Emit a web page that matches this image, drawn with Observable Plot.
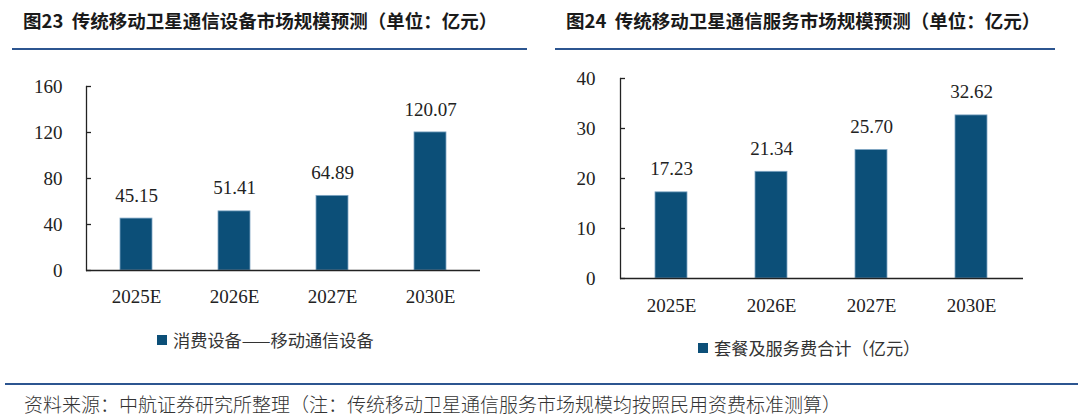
<!DOCTYPE html>
<html><head><meta charset="utf-8">
<script src="https://cdn.jsdelivr.net/npm/d3@7"></script>
<script src="https://cdn.jsdelivr.net/npm/@observablehq/plot@0.6"></script>
<style>
html,body{margin:0;padding:0;background:#fff;}
#root{position:relative;width:1080px;height:419px;overflow:hidden;background:#fff;font-family:"Noto Sans CJK SC","Noto Sans",sans-serif;}
.title{position:absolute;font-size:18.5px;font-weight:700;color:#1a1a1a;line-height:24px;white-space:pre;}
.hline{position:absolute;height:2px;background:#2c5590;}
.legend{position:absolute;font-size:17.2px;color:#333;line-height:22px;white-space:nowrap;display:flex;align-items:center;}
.legend .sw{display:inline-block;width:10px;height:10px;background:#0c4f78;margin-right:6px;}
.footer{position:absolute;font-size:19px;color:#333;font-weight:300;line-height:22px;white-space:nowrap;}
.chart{position:absolute;}
</style></head>
<body><div id="root">
<div class="title" id="t1" style="left:23px;top:8px;"></div>
<div class="hline" style="left:12px;top:48px;width:515px;"></div>
<div class="title" id="t2" style="left:566px;top:8px;"></div>
<div class="hline" style="left:555px;top:48px;width:500px;"></div>
<div class="chart" id="c1" style="left:0px;top:60px;"></div>
<div class="chart" id="c2" style="left:540px;top:60px;"></div>
<div class="legend" id="l1" style="left:157px;top:329px;"><span class="sw"></span><span id="l1t"></span></div>
<div class="legend" id="l2" style="left:698px;top:337px;"><span class="sw"></span><span id="l2t"></span></div>
<div class="hline" style="left:5px;top:383px;width:1073px;"></div>
<div class="footer" id="ft" style="left:24px;top:393px;"></div>
</div>
<script>
// ---- data ----
const years = ["2025E", "2026E", "2027E", "2030E"];
const equipValues = [45.15, 51.41, 64.89, 120.07];
const serviceValues = [17.23, 21.34, 25.70, 32.62];
const equipTicks = [0, 40, 80, 120, 160];
const serviceTicks = [0, 10, 20, 30, 40];
const title1 = "图23  传统移动卫星通信设备市场规模预测（单位：亿元）";
const title2 = "图24  传统移动卫星通信服务市场规模预测（单位：亿元）";
const legend1 = "消费设备——移动通信设备";
const legend2 = "套餐及服务费合计（亿元）";
const footer = "资料来源：中航证券研究所整理（注：传统移动卫星通信服务市场规模均按照民用资费标准测算）";

document.getElementById("t1").textContent = title1;
document.getElementById("t2").textContent = title2;
document.getElementById("l1t").textContent = legend1;
document.getElementById("l2t").textContent = legend2;
document.getElementById("ft").textContent = footer;

const barColor = "#0c4f78";
const numFont = "'Liberation Serif','DejaVu Serif',serif";

function makeChart(values, ticks, m) {
  const data = years.map((y, i) => ({year: y, value: values[i]}));
  return Plot.plot({
    width: 540, height: 260,
    marginLeft: m.left, marginRight: m.right, marginTop: m.top, marginBottom: m.bottom,
    style: {fontFamily: numFont, fontSize: "19px", color: "#222", background: "transparent"},
    x: {domain: years, paddingInner: 0.675, paddingOuter: 0.3375, label: null},
    y: {domain: [ticks[0], ticks[ticks.length - 1]], label: null},
    marks: [
      Plot.barY(data, {x: "year", y: "value", fill: barColor, stroke: "#7fa6c4", strokeWidth: 0.8}),
      Plot.frame({anchor: "left", stroke: "#222", strokeWidth: 1.3}),
      Plot.axisY({ticks: ticks, tickSize: 0, tickPadding: m.yPad, label: null}),
      Plot.axisY({ticks: ticks, tickSize: -5, tickFormat: () => "", label: null, stroke: "#222", strokeWidth: 1.3}),
      Plot.axisX({tickSize: 0, tickPadding: m.xPad, label: null}),
      Plot.ruleY([0], {stroke: "#222", strokeWidth: 1.6}),
      Plot.text(data, {x: "year", y: "value", text: d => d.value.toFixed(2), dy: -23, fontSize: 19, fill: "#222"})
    ]
  });
}

document.getElementById("c1").appendChild(
  makeChart(equipValues, equipTicks, {left: 86, right: 60, top: 26, bottom: 50, yPad: 24, xPad: 19}));
document.getElementById("c2").appendChild(
  makeChart(serviceValues, serviceTicks, {left: 80, right: 57, top: 18, bottom: 42, yPad: 25, xPad: 20}));
</script>
</body></html>
